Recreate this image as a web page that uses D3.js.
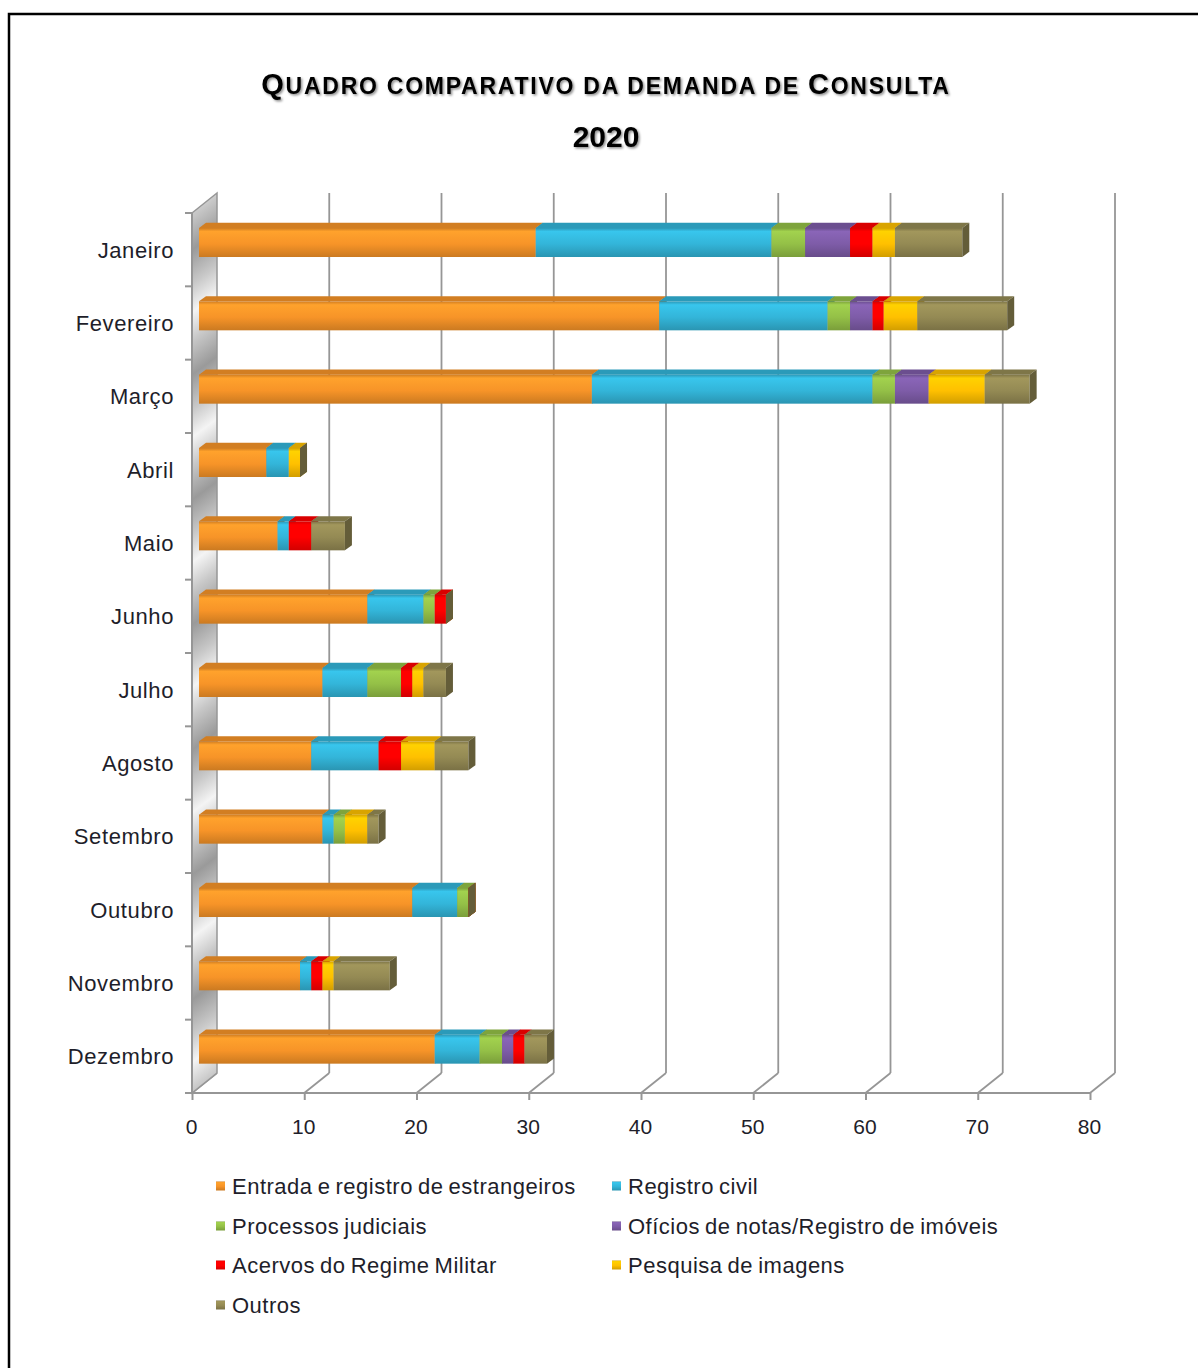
<!DOCTYPE html>
<html><head><meta charset="utf-8">
<script src="https://cdn.jsdelivr.net/npm/d3@7"></script>
<style>html,body{margin:0;padding:0;background:#fff;overflow:hidden}svg{display:block}</style>
</head><body>
<svg id="chart" width="1198" height="1368"></svg>
<script>
const months = ["Janeiro","Fevereiro","Março","Abril","Maio","Junho","Julho","Agosto","Setembro","Outubro","Novembro","Dezembro"];
const seriesNames = ["Entrada e registro de estrangeiros","Registro civil","Processos judiciais","Ofícios de notas/Registro de imóveis","Acervos do Regime Militar","Pesquisa de imagens","Outros"];
const entrada   = [30,41,35,6,7,15,11,10,11,19,9,21];
const registro  = [21,15,25,2,1,5,4,6,1,4,1,4];
const processos = [3,2,2,0,0,1,3,0,1,1,0,2];
const oficios   = [4,2,3,0,0,0,0,0,0,0,0,1];
const acervos   = [2,1,0,0,2,1,1,2,0,0,1,1];
const pesquisa  = [2,3,5,1,0,0,1,3,2,0,1,0];
const outros    = [6,8,4,0,3,0,2,3,1,0,5,2];
const xTicks = [0,10,20,30,40,50,60,70,80];
const colors = ["#F79428","#33B5D9","#94C047","#7E5CA8","#FF0000","#FFC000","#948A54"];

const seriesValues = [entrada,registro,processos,oficios,acervos,pesquisa,outros];
const table = months.map((m,i)=>{const o={month:m}; seriesNames.forEach((s,j)=>o[s]=seriesValues[j][i]); return o;});
const stacked = d3.stack().keys(seriesNames)(table);

const svg = d3.select("#chart");
const defs = svg.append("defs");

// scales
const x = d3.scaleLinear().domain([0,80]).range([192,1090]);
const y = d3.scaleBand().domain(months).range([213,1093]);
const DEPTH_X = 25, DEPTH_Y = -20;        // back plane offset
const BAR_OFF_X = 7;                      // bar front face offset from front plane
const BAR_DX = 7, BAR_DY = -5.2;          // bar depth
const BAR_TOP = 15, BAR_H = 29;

// gradients
colors.forEach((c,i)=>{
  const base = d3.color(c);
  const g = defs.append("linearGradient").attr("id","g"+i).attr("x1",0).attr("y1",0).attr("x2",0).attr("y2",1);
  g.append("stop").attr("offset","0%").attr("stop-color",base.darker(0.5));
  g.append("stop").attr("offset","12%").attr("stop-color",base.brighter(0.25));
  g.append("stop").attr("offset","55%").attr("stop-color",base);
  g.append("stop").attr("offset","100%").attr("stop-color",base.darker(0.55));
});
const wall = defs.append("linearGradient").attr("id","wall").attr("gradientUnits","userSpaceOnUse")
  .attr("x1",192).attr("y1",0).attr("x2",222).attr("y2",40).attr("spreadMethod","reflect");
wall.append("stop").attr("offset","0%").attr("stop-color","#9a9a9a");
wall.append("stop").attr("offset","55%").attr("stop-color","#c8c8c8");
wall.append("stop").attr("offset","100%").attr("stop-color","#f4f4f4");

const shadow = defs.append("filter").attr("id","tshadow").attr("x","-5%").attr("y","-20%").attr("width","110%").attr("height","150%");
shadow.append("feDropShadow").attr("dx",1.5).attr("dy",1.5).attr("stdDeviation",0.8).attr("flood-color","#000").attr("flood-opacity",0.45);

// outer frame
svg.append("rect").attr("x",9).attr("y",14).attr("width",1300).attr("height",1500)
  .attr("fill","none").attr("stroke","#000").attr("stroke-width",2.5);

// title
const title = svg.append("text").attr("x",606).attr("y",94).attr("text-anchor","middle")
  .attr("font-family","Liberation Sans, Arial, sans-serif").attr("font-weight","bold")
  .attr("letter-spacing",1.75).attr("filter","url(#tshadow)");
[["Q",29],["UADRO COMPARATIVO DA DEMANDA DE ",23],["C",29],["ONSULTA",23]].forEach(([t,s])=>{
  title.append("tspan").attr("font-size",s).text(t);
});
svg.append("text").attr("x",606).attr("y",147).attr("text-anchor","middle")
  .attr("font-family","Liberation Sans, Arial, sans-serif").attr("font-weight","bold")
  .attr("font-size",30).attr("filter","url(#tshadow)").text("2020");

const gridColor = "#969696";
const yTop = y.range()[0], yBot = y.range()[1];

// back gridlines
svg.append("g").selectAll("line").data(xTicks.slice(1)).join("line")
  .attr("x1",d=>x(d)+DEPTH_X).attr("x2",d=>x(d)+DEPTH_X)
  .attr("y1",yTop+DEPTH_Y).attr("y2",yBot+DEPTH_Y)
  .attr("stroke",gridColor).attr("stroke-width",1.8);

// floor diagonals
svg.append("g").selectAll("line").data(xTicks).join("line")
  .attr("x1",d=>x(d)).attr("y1",yBot).attr("x2",d=>x(d)+DEPTH_X).attr("y2",yBot+DEPTH_Y)
  .attr("stroke",gridColor).attr("stroke-width",1.8);

// left wall
svg.append("path")
  .attr("d",`M${x(0)},${yTop} L${x(0)+DEPTH_X},${yTop+DEPTH_Y} L${x(0)+DEPTH_X},${yBot+DEPTH_Y} L${x(0)},${yBot} Z`)
  .attr("fill","url(#wall)").attr("stroke",gridColor).attr("stroke-width",1.5);

// bars
const barG = svg.append("g");
months.forEach((m,mi)=>{
  const top = y(m) + BAR_TOP;
  stacked.forEach((layer,si)=>{
    const d = layer[mi];
    const x0 = x(d[0]) + BAR_OFF_X, x1 = x(d[1]) + BAR_OFF_X;
    const base = d3.color(colors[si]);
    const isLast = d[1] === stacked[stacked.length-1][mi][1];
    if (d[1] > d[0]) {
      barG.append("rect").attr("x",x0).attr("y",top).attr("width",x1-x0).attr("height",BAR_H)
        .attr("fill",`url(#g${si})`);
      barG.append("path")
        .attr("d",`M${x0},${top} L${x0+BAR_DX},${top+BAR_DY} L${x1+BAR_DX},${top+BAR_DY} L${x1},${top} Z`)
        .attr("fill",base.darker(0.45));
    }
    if (d[1] > d[0] || isLast) {
      barG.append("path")
        .attr("d",`M${x1},${top} L${x1+BAR_DX},${top+BAR_DY} L${x1+BAR_DX},${top+BAR_H+BAR_DY} L${x1},${top+BAR_H} Z`)
        .attr("fill",base.darker(1.1));
    }
  });
});

// front axes
svg.append("line").attr("x1",x(0)).attr("x2",x(80)).attr("y1",yBot).attr("y2",yBot)
  .attr("stroke",gridColor).attr("stroke-width",2);
svg.append("line").attr("x1",x(0)).attr("x2",x(0)).attr("y1",yTop).attr("y2",yBot)
  .attr("stroke",gridColor).attr("stroke-width",2);
const xAxis = d3.axisBottom(x).tickValues(xTicks).tickSize(7).tickPadding(19);
const xg = svg.append("g").attr("transform",`translate(0,${yBot})`).call(xAxis);
xg.select(".domain").remove();
xg.selectAll(".tick line").attr("stroke",gridColor).attr("stroke-width",2);
xg.selectAll(".tick text").attr("font-family","Liberation Sans, Arial, sans-serif").attr("font-size",21)
  .attr("fill","#1e1e2a").attr("dx",-1);

const yTickPos = d3.range(months.length+1).map(i=>yTop + i*y.step());
svg.append("g").selectAll("line").data(yTickPos).join("line")
  .attr("x1",x(0)-7).attr("x2",x(0)).attr("y1",d=>d).attr("y2",d=>d)
  .attr("stroke",gridColor).attr("stroke-width",2);
svg.append("g").selectAll("text").data(months).join("text")
  .attr("x",174).attr("y",d=>y(d)+y.bandwidth()/2+8).attr("text-anchor","end")
  .attr("font-family","Liberation Sans, Arial, sans-serif").attr("font-size",22).attr("fill","#1e1e2a")
  .attr("letter-spacing",0.6).text(d=>d);

// legend
const legPos = [[216,1186],[612,1186],[216,1226],[612,1226],[216,1265],[612,1265],[216,1305]];
const lg = svg.append("g");
seriesNames.forEach((s,i)=>{
  const [lx,ly] = legPos[i];
  lg.append("rect").attr("x",lx).attr("y",ly-4.5).attr("width",9).attr("height",9).attr("fill",`url(#g${i})`);
  lg.append("text").attr("x",lx+16).attr("y",ly+8)
    .attr("font-family","Liberation Sans, Arial, sans-serif").attr("font-size",22).attr("fill","#1e1e2a")
    .attr("letter-spacing",0.5).attr("word-spacing",-1.5).text(s);
});
</script>
</body></html>
